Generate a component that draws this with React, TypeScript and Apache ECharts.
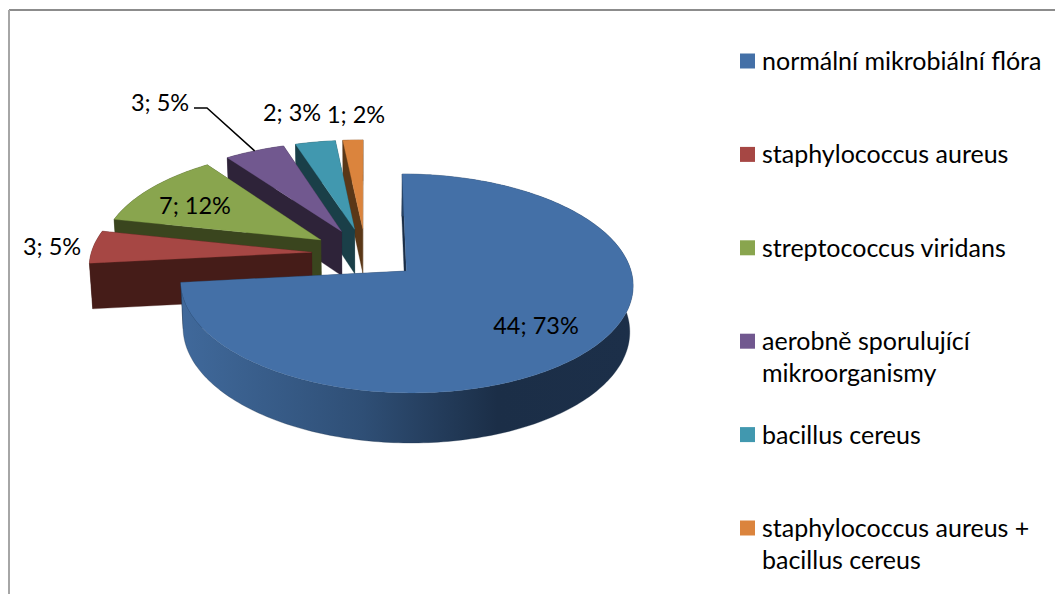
import React, { useEffect, useRef } from "react";
import * as echarts from "echarts";

// Counts of isolates per group
const categories = [
  "normální mikrobiální flóra",
  "staphylococcus aureus",
  "streptococcus viridans",
  "aerobně sporulující\nmikroorganismy",
  "bacillus cereus",
  "staphylococcus aureus +\nbacillus cereus",
];
const counts = [44, 3, 7, 3, 2, 1];

const topColors = ["#4470a7", "#a64744", "#89a54e", "#71588f", "#4198af", "#db843d"];
const wallColors = ["#1b2e47", "#451c18", "#3a451e", "#2e2339", "#1a3f48", "#5a3717"];

// Label anchors (text centres) in pixels
const labelCentres: [number, number][] = [
  [536, 325],
  [52, 246],
  [195, 205],
  [160, 102],
  [292, 112],
  [356, 114],
];

// Perspective model of the tilted pie
const CX = 365.5;
const CY = 253.6;
const SCALE_X = 220.5;
const SCALE_Z = 104.1;
const PERSPECTIVE = 0.112;
const EXPLODE = 0.245;
const WALL_DROP = 45.8;
const WALL_SHRINK = 0.012;

const total = counts.reduce((a, b) => a + b, 0);
const starts: number[] = [];
counts.reduce((acc, v, i) => {
  starts[i] = acc;
  return acc + v;
}, 0);

type Pt = [number, number];

function project(X: number, Z: number, lower: boolean): Pt {
  const w = 1 - PERSPECTIVE * Z + (lower ? WALL_SHRINK : 0);
  return [CX + (SCALE_X * X) / w, CY + (SCALE_Z * Z + (lower ? WALL_DROP : 0)) / w];
}

function slicePoint(index: number, angle: number, radius: number, lower: boolean): Pt {
  const mid = ((starts[index] + counts[index] / 2) / total) * Math.PI * 2;
  const X = EXPLODE * Math.sin(mid) + radius * Math.sin(angle);
  const Z = -EXPLODE * Math.cos(mid) - radius * Math.cos(angle);
  return project(X, Z, lower);
}

function arcAngles(a0: number, a1: number): number[] {
  const steps = Math.max(4, Math.ceil((a1 - a0) / 0.02));
  const out: number[] = [];
  for (let i = 0; i <= steps; i++) out.push(a0 + ((a1 - a0) * i) / steps);
  return out;
}

const blueWall = new echarts.graphic.LinearGradient(0, 0, 1, 0, [
  { offset: 0, color: "#40699b" },
  { offset: 0.4, color: "#2f4f76" },
  { offset: 0.7, color: "#1b2e47" },
  { offset: 1, color: "#1c2f49" },
]);

function renderSlice(params: any) {
  // Series data runs back to front, so the painter's order is the data order.
  const i = counts.length - 1 - params.dataIndex;
  const a0 = (starts[i] / total) * Math.PI * 2;
  const a1 = ((starts[i] + counts[i]) / total) * Math.PI * 2;
  const angles = arcAngles(a0, a1);

  const topArc = angles.map((a) => slicePoint(i, a, 1, false));
  const lowArc = angles.map((a) => slicePoint(i, a, 1, true));
  const apexTop = slicePoint(i, 0, 0, false);
  const apexLow = slicePoint(i, 0, 0, true);

  const poly = (points: Pt[], fill: any) => ({
    type: "polygon",
    shape: { points },
    style: { fill, stroke: typeof fill === "string" ? fill : "#1b2e47", lineWidth: 0.3 },
  });

  const wallFill = i === 0 ? blueWall : wallColors[i];
  const outerWall = poly([...topArc, ...[...lowArc].reverse()], wallFill);
  const startWall = poly([apexTop, topArc[0], lowArc[0], apexLow], wallColors[i]);
  const endWall = poly(
    [apexTop, topArc[topArc.length - 1], lowArc[lowArc.length - 1], apexLow],
    wallColors[i]
  );
  const top = poly([apexTop, ...topArc], topColors[i]);

  const children: any[] =
    i === 0
      ? [startWall, endWall, outerWall, top]
      : [outerWall, endWall, startWall, top];

  // The one label set away from its slice gets a leader to the arc's midpoint.
  if (i === 3) {
    const [lx, ly] = labelCentres[i];
    const arcMid = slicePoint(i, (a0 + a1) / 2, 1, false);
    children.push({
      type: "polyline",
      shape: {
        points: [
          [lx + 34, ly + 6],
          [lx + 47, ly + 6],
          arcMid,
        ],
      },
      style: { stroke: "#000000", lineWidth: 1.5, fill: "none" },
    });
  }
  return { type: "group", children };
}

const textFont = '"Lato", "Open Sans", sans-serif';

export default function App() {
  const ref = useRef<HTMLDivElement>(null);

  useEffect(() => {
    const chart = echarts.init(ref.current!, undefined, { renderer: "svg" });
    const drawOrder = counts.map((_, i) => counts.length - 1 - i);

    const labels = counts.map((v, i) => ({
      type: "text",
      x: labelCentres[i][0],
      y: labelCentres[i][1],
      z: 10,
      style: {
        text: `${v}; ${Math.round((v / total) * 100)}%`,
        font: `23.5px ${textFont}`,
        fill: "#000000",
        align: "center",
        verticalAlign: "middle",
      },
    }));

    const legend = categories.flatMap((name, i) => {
      const y = 61 + i * 93.4;
      return [
        { type: "rect", shape: { x: 740, y: y - 7.5, width: 15, height: 15 }, style: { fill: topColors[i] } },
        {
          type: "text",
          x: 762,
          y: y - 17,
          style: {
            text: name,
            font: `25px ${textFont}`,
            lineHeight: 32,
            fill: "#000000",
            align: "left",
            verticalAlign: "top",
          },
        },
      ];
    });

    chart.setOption({
      animation: false,
      backgroundColor: "#ffffff",
      xAxis: { show: false },
      yAxis: { show: false },
      series: [
        {
          type: "custom",
          coordinateSystem: "none",
          silent: true,
          data: drawOrder.map((i) => ({ name: categories[i], value: counts[i] })),
          renderItem: renderSlice,
        },
      ],
      graphic: [
        { type: "line", shape: { x1: 9, y1: 10, x2: 1055, y2: 10 }, style: { stroke: "#8c8c8c", lineWidth: 2 } },
        { type: "line", shape: { x1: 9, y1: 10, x2: 9, y2: 594 }, style: { stroke: "#a6a6a6", lineWidth: 2 } },
        ...labels,
        ...legend,
      ],
    });
    return () => chart.dispose();
  }, []);

  return <div ref={ref} style={{ position: "fixed", left: 0, top: 0, width: 1055, height: 594 }} />;
}
